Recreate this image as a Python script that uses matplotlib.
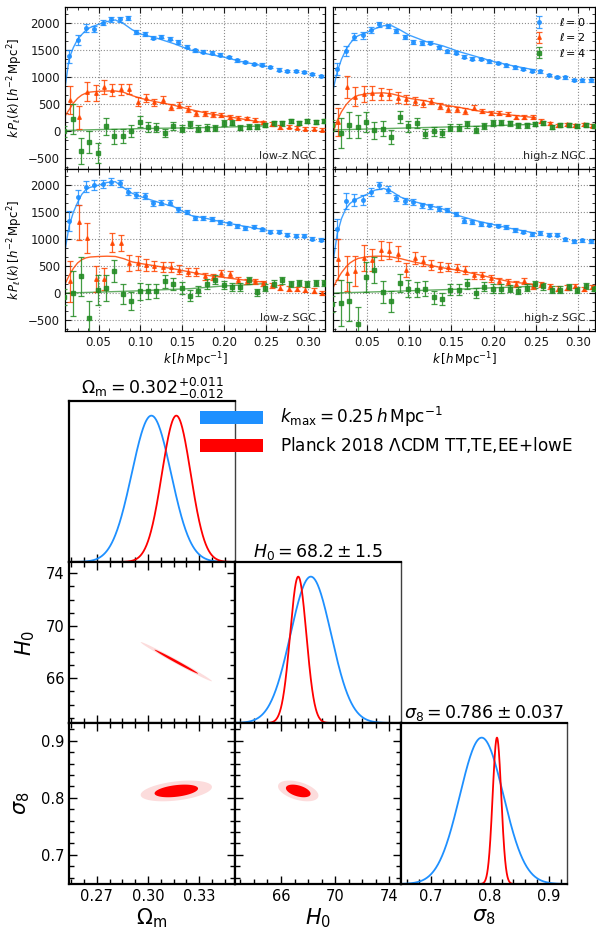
import numpy as np
import matplotlib
matplotlib.use('Agg')
import matplotlib.pyplot as plt
from matplotlib.ticker import MultipleLocator, AutoMinorLocator, FixedLocator
from matplotlib.patches import Patch

# ---------------- data: power spectrum multipoles ----------------
k_base = [0.015 + 0.01 * i for i in range(31)]
k_ell0 = k_base
k_ell2 = [k + 0.0015 for k in k_base]
k_ell4 = [0.009] + [k + 0.004 for k in k_base]

lowNGC_P0 = [1390, 1690, 1913, 1888, 2012, 2075, 2075, 2093, 1844, 1794, 1732, 1750, 1713, 1651, 1564, 1501,
             1470, 1452, 1420, 1377, 1314, 1283, 1246, 1233, 1190, 1140, 1121, 1109, 1103, 1059, 1015]
lowNGC_P2 = [579, 255, 735, 704, 816, 766, 778, 785, 548, 623, 535, 585, 442, 479, 411, 330, 330, 311, 299,
             268, 237, 237, 205, 162, 131, 81, 81, 62, 50, 50, 31]
lowNGC_P4 = [0, 224, -367, -200, -405, 93, -93, -93, 6, 174, 81, 68, -31, 93, 50, 125, 50, 68, 62, 156, 156,
             68, 81, 81, 112, 143, 143, 187, 143, 187, 174, 187]

highNGC_P0 = [1152, 1482, 1750, 1775, 1874, 1980, 1949, 1856, 1750, 1650, 1638, 1638, 1557, 1482, 1451, 1376,
              1339, 1339, 1295, 1264, 1220, 1183, 1152, 1121, 1108, 1046, 1003, 996, 953, 940, 940]
highNGC_P2 = [168, 816, 641, 691, 704, 691, 685, 623, 592, 560, 517, 560, 467, 411, 405, 374, 436, 374, 342,
              330, 311, 268, 268, 268, 193, 143, 112, 125, 112, 125, 100]
highNGC_P4 = [112, -31, 112, 81, 174, 19, 50, -106, 268, 93, 156, -44, 0, -31, 68, 68, 125, 31, 93, 156, 156,
              143, 112, 112, 131, 156, 81, 112, 112, 93, 112, 93]

lowSGC_P0 = [1341, 1776, 1975, 2006, 2024, 2068, 2037, 1882, 1820, 1801, 1664, 1677, 1677, 1553, 1509, 1397,
             1397, 1366, 1323, 1292, 1242, 1211, 1230, 1180, 1136, 1136, 1087, 1062, 1062, 1012, 994]
lowSGC_P2 = [224, 1310, 1025, 255, 267, 932, 932, 559, 559, 528, 503, 484, 484, 435, 391, 391, 311, 298, 373,
             360, 248, 217, 217, 186, 143, 99, 81, 81, 68, 50, 0]
lowSGC_P4 = [-75, 0, 311, -466, 62, 99, 410, -12, -149, 37, 37, 37, 217, 174, 99, -43, 37, 174, 248, 150, 112,
             112, 236, 19, 99, 174, 236, 174, 186, 174, 186, 186]

highSGC_P0 = [1190, 1707, 1732, 1732, 1875, 2000, 1919, 1763, 1707, 1688, 1626, 1607, 1564, 1545, 1470, 1346,
              1327, 1283, 1271, 1252, 1221, 1171, 1140, 1097, 1115, 1084, 1084, 1003, 959, 984, 959]
highSGC_P2 = [629, 368, 411, 648, 617, 797, 785, 735, 430, 648, 598, 523, 486, 486, 461, 430, 330, 330, 274,
              224, 206, 174, 224, 131, 162, 131, 81, 100, 131, 81, 112]
highSGC_P4 = [-193, -181, -150, -573, 299, 424, 25, -150, 193, 81, 68, 87, -75, -100, 68, 68, 174, 6, 118, 87,
              87, 87, 50, 100, 162, 131, 68, 68, 112, 68, 131, 87]

err0_NGC = [120, 90, 70, 60, 50, 45, 45, 40, 38, 35, 33, 32, 30, 30, 28, 27, 26, 25, 25, 24, 24, 23, 23, 22,
            22, 22, 21, 21, 21, 20, 20]
err2_NGC = [260, 210, 180, 150, 130, 115, 105, 95, 85, 75, 68, 62, 58, 54, 50, 47, 45, 42, 40, 38, 37, 35, 34,
            33, 32, 31, 30, 30, 29, 28, 28]
err4_NGC = [100, 280, 240, 210, 190, 160, 140, 130, 115, 105, 95, 88, 80, 75, 70, 65, 62, 58, 55, 52, 50, 48,
            46, 44, 42, 41, 40, 38, 37, 36, 35, 35]
err0_SGC = [180, 140, 110, 90, 75, 68, 62, 58, 55, 50, 48, 45, 43, 41, 40, 38, 37, 36, 35, 34, 33, 32, 31, 30,
            30, 29, 29, 28, 28, 27, 27]
err2_SGC = [380, 320, 280, 240, 200, 175, 155, 140, 125, 112, 100, 92, 86, 80, 75, 70, 66, 62, 59, 56, 54, 52,
            50, 48, 46, 45, 44, 43, 42, 41, 40]
err4_SGC = [150, 420, 360, 320, 280, 240, 210, 190, 170, 155, 140, 130, 120, 112, 105, 98, 92, 88, 84, 80, 76,
            73, 70, 67, 65, 63, 61, 59, 57, 56, 55, 54]

# theory curves (best fit), drawn up to k_max = 0.25
k_th = [0.01, 0.015, 0.02, 0.025, 0.03, 0.035, 0.04, 0.05, 0.06, 0.07, 0.08, 0.09, 0.10, 0.12, 0.14, 0.16,
        0.18, 0.20, 0.22, 0.25]
lowNGC_T0 = [800, 1350, 1550, 1700, 1790, 1870, 1920, 1980, 2030, 2060, 1990, 1880, 1800, 1720, 1620, 1500,
             1430, 1370, 1290, 1200]
lowNGC_T2 = [280, 400, 520, 610, 670, 705, 725, 740, 745, 745, 720, 660, 610, 540, 480, 400, 330, 280, 230, 150]
lowNGC_T4 = [10, 15, 18, 20, 22, 24, 26, 30, 33, 36, 40, 44, 48, 54, 58, 62, 68, 75, 85, 100]
highNGC_T0 = [760, 1100, 1330, 1500, 1620, 1720, 1770, 1830, 1900, 1955, 1950, 1870, 1780, 1660, 1580, 1470,
              1380, 1290, 1220, 1130]
highNGC_T2 = [-30, 200, 360, 480, 570, 630, 665, 695, 705, 710, 690, 650, 610, 560, 490, 440, 380, 335, 300, 250]
highNGC_T4 = [20, 25, 28, 30, 32, 34, 36, 40, 44, 48, 52, 56, 60, 68, 76, 84, 92, 102, 112, 130]
lowSGC_T0 = [790, 1250, 1500, 1680, 1830, 1920, 1960, 2000, 2050, 2065, 1950, 1850, 1790, 1690, 1600, 1440,
             1380, 1310, 1250, 1170]
lowSGC_T2 = [170, 330, 460, 560, 620, 655, 670, 680, 685, 680, 640, 580, 550, 500, 450, 390, 330, 290, 250, 200]
lowSGC_T4 = [0, 5, 8, 10, 12, 14, 16, 20, 25, 30, 35, 40, 45, 60, 72, 85, 110, 135, 150, 180]
highSGC_T0 = [570, 1100, 1380, 1560, 1660, 1720, 1760, 1830, 1910, 1940, 1880, 1780, 1720, 1640, 1560, 1430,
              1340, 1270, 1200, 1110]
highSGC_T2 = [100, 250, 380, 480, 560, 610, 645, 675, 685, 685, 670, 640, 600, 530, 470, 420, 350, 280, 210, 160]
highSGC_T4 = [0, 5, 8, 10, 12, 14, 16, 20, 25, 30, 35, 40, 45, 55, 65, 75, 88, 100, 112, 130]

panel_names = ['low-z NGC', 'high-z NGC', 'low-z SGC', 'high-z SGC']

# ---------------- data: posteriors ----------------
par_names = [r'$\Omega_{\rm m}$', r'$H_0$', r'$\sigma_8$']
boss_mean = [0.302, 68.2, 0.786]
boss_sigma = [0.0115, 1.5, 0.037]
planck_mean = [0.3166, 67.27, 0.8120]
planck_sigma = [0.0084, 0.60, 0.0073]
planck_corr = {(0, 1): -0.993, (0, 2): 0.38, (1, 2): -0.45}
titles = [r'$\Omega_{\rm m} = 0.302^{+0.011}_{-0.012}$', r'$H_0 = 68.2\pm 1.5$', r'$\sigma_8 = 0.786\pm 0.037$']
legend_labels = [r'$k_{\rm max} = 0.25\,h\,{\rm Mpc}^{-1}$', r'Planck 2018 $\Lambda$CDM TT,TE,EE+lowE']

par_lims = [(0.2537, 0.351), (62.6, 74.86), (0.649, 0.931)]
par_major = [[0.27, 0.30, 0.33], [66, 70, 74], [0.7, 0.8, 0.9]]
par_major_lbl = [['0.27', '0.30', '0.33'], ['66', '70', '74'], ['0.7', '0.8', '0.9']]
par_minor = [0.0075, 1.0, 0.02]

C0, C2, C4 = '#1E90FF', '#FF4500', '#228B22'
BLUE, RED, PINK = '#1E90FF', '#FF0000', '#FCDCDC'

W, H = 596, 935
fig = plt.figure(figsize=(W / 100, H / 100), dpi=100)


def add_ax(x0, y0, x1, y1):
    return fig.add_axes([x0 / W, 1 - y1 / H, (x1 - x0) / W, (y1 - y0) / H])


# ---------------- top: multipoles ----------------
boxes = [(65, 7, 325, 169), (333, 7, 595, 169), (65, 169, 325, 331), (333, 169, 595, 331)]
datasets = [
    (lowNGC_P0, lowNGC_P2, lowNGC_P4, lowNGC_T0, lowNGC_T2, lowNGC_T4, 'N'),
    (highNGC_P0, highNGC_P2, highNGC_P4, highNGC_T0, highNGC_T2, highNGC_T4, 'N'),
    (lowSGC_P0, lowSGC_P2, lowSGC_P4, lowSGC_T0, lowSGC_T2, lowSGC_T4, 'S'),
    (highSGC_P0, highSGC_P2, highSGC_P4, highSGC_T0, highSGC_T2, highSGC_T4, 'S'),
]
for i, (box, ds) in enumerate(zip(boxes, datasets)):
    ax = add_ax(*box)
    P0, P2, P4, T0, T2, T4, cap = ds
    e0, e2, e4 = (err0_NGC, err2_NGC, err4_NGC) if cap == 'N' else (err0_SGC, err2_SGC, err4_SGC)
    ax.plot(k_th, T0, color=C0, lw=1.0, alpha=0.85, zorder=2)
    ax.plot(k_th, T2, color=C2, lw=1.0, alpha=0.85, zorder=2)
    ax.plot(k_th, T4, color=C4, lw=1.0, alpha=0.7, zorder=2)
    kw = dict(ms=2.6, capsize=2.0, elinewidth=0.9, capthick=0.9, alpha=0.85, zorder=3)
    ax.errorbar(k_ell0, P0, yerr=e0, fmt='o', color=C0, label=r'$\ell=0$', **kw)
    ax.errorbar(k_ell2, P2, yerr=e2, fmt='^', color=C2, label=r'$\ell=2$', **kw)
    ax.errorbar(k_ell4, P4, yerr=e4, fmt='s', color=C4, label=r'$\ell=4$', **kw)
    ax.set_xlim(0.01, 0.32)
    ax.set_ylim(-700, 2300)
    ax.xaxis.set_major_locator(MultipleLocator(0.05))
    ax.xaxis.set_minor_locator(AutoMinorLocator(4))
    ax.yaxis.set_major_locator(MultipleLocator(500))
    ax.yaxis.set_minor_locator(AutoMinorLocator(3))
    ax.grid(True, which='major', ls=':', color='0.55', lw=0.8)
    ax.tick_params(which='both', direction='in', top=True, right=True, labelsize=8.5, colors='0.1')
    ax.tick_params(which='major', length=4)
    ax.tick_params(which='minor', length=2)
    for s in ax.spines.values():
        s.set_linewidth(0.9)
    if i % 2 == 1:
        ax.tick_params(labelleft=False)
    else:
        ax.set_ylabel(r'$k\,P_\ell(k)\,[h^{-2}\,\mathrm{Mpc}^2]$', fontsize=8.5, labelpad=2)
    if i < 2:
        ax.tick_params(labelbottom=False)
    else:
        ax.set_xticks([0.05, 0.10, 0.15, 0.20, 0.25, 0.30])
        ax.set_xticklabels(['0.05', '0.10', '0.15', '0.20', '0.25', '0.30'])
        ax.set_xlabel(r'$k\,[h\,\mathrm{Mpc}^{-1}]$', fontsize=8.5, labelpad=1)
    ax.text(0.965, 0.08, panel_names[i], transform=ax.transAxes, ha='right', va='center', fontsize=8,
            color='0.15')
    if i == 1:
        ax.legend(loc='upper right', frameon=False, fontsize=8, handlelength=1.2, handletextpad=1.2,
                  labelspacing=0.3, borderaxespad=0.4)

# ---------------- bottom: triangle plot ----------------
cols = [69, 235, 401, 567]
rows = [401, 562, 723, 884]


def gauss(x, m, s):
    return np.exp(-0.5 * ((x - m) / s) ** 2)


def style_ticks(ax, xi, yi, diag):
    ax.set_xlim(*par_lims[xi])
    ax.xaxis.set_major_locator(FixedLocator(par_major[xi]))
    ax.xaxis.set_minor_locator(MultipleLocator(par_minor[xi]))
    if diag:
        ax.set_ylim(0, 1.1)
        ax.set_yticks([])
        ax.tick_params(which='both', direction='in', top=False, left=False, right=False, bottom=True)
    else:
        ax.set_ylim(*par_lims[yi])
        ax.yaxis.set_major_locator(FixedLocator(par_major[yi]))
        ax.yaxis.set_minor_locator(MultipleLocator(par_minor[yi]))
        ax.tick_params(which='both', direction='in', top=True, right=True, left=True, bottom=True)
    ax.tick_params(which='major', length=5.5, width=1.0, labelsize=10.5)
    ax.tick_params(which='minor', length=3.5, width=1.0)
    for s in ax.spines.values():
        s.set_linewidth(1.6)
    ax.tick_params(labelbottom=False, labelleft=False)


def cov_ellipse(mx, my, sx, sy, rho, dchi2):
    # ellipse of constant delta-chi2 for a correlated 2D Gaussian
    c2 = np.array([[1.0, rho], [rho, 1.0]])
    v2, e2 = np.linalg.eigh(c2)
    t = np.linspace(0, 2 * np.pi, 400)
    circ = np.vstack([np.cos(t), np.sin(t)])
    pts = e2 @ np.diag(np.sqrt(v2 * dchi2)) @ circ
    return mx + pts[0] * sx, my + pts[1] * sy


for r in range(3):
    for c in range(r + 1):
        ax = add_ax(cols[c], rows[r], cols[c + 1], rows[r + 1])
        if r == c:
            style_ticks(ax, c, None, True)
            lo, hi = par_lims[c]
            xb = np.linspace(max(lo, boss_mean[c] - 4.2 * boss_sigma[c]),
                             min(hi, boss_mean[c] + 4.2 * boss_sigma[c]), 400)
            xp = np.linspace(max(lo, planck_mean[c] - 4.2 * planck_sigma[c]),
                             min(hi, planck_mean[c] + 4.2 * planck_sigma[c]), 400)
            ax.plot(xb, gauss(xb, boss_mean[c], boss_sigma[c]), color=BLUE, lw=1.3)
            ax.plot(xp, gauss(xp, planck_mean[c], planck_sigma[c]), color=RED, lw=1.3)
            ax.set_title(titles[c], fontsize=12.5, pad=3)
            ax.spines['right'].set_linewidth(1.0)
            ax.spines['right'].set_color('0.25')
        else:
            style_ticks(ax, c, r, False)
            rho = planck_corr[(c, r)]
            ox, oy = cov_ellipse(planck_mean[c], planck_mean[r], planck_sigma[c], planck_sigma[r], rho, 6.18)
            ix, iy = cov_ellipse(planck_mean[c], planck_mean[r], planck_sigma[c], planck_sigma[r], rho, 2.30)
            ax.fill(ox, oy, color=PINK, lw=0, zorder=1)
            ax.fill(ix, iy, color=RED, lw=0, zorder=2)
        if r == 2:
            ax.tick_params(labelbottom=True)
            ax.set_xticklabels(par_major_lbl[c])
            ax.set_xlabel(par_names[c], fontsize=15, labelpad=2)
        if c == 0 and r > 0:
            ax.tick_params(labelleft=True)
            ax.set_yticklabels(par_major_lbl[r])
            ax.set_ylabel(par_names[r], fontsize=15, labelpad=6)

handles = [Patch(facecolor=BLUE, edgecolor='none'), Patch(facecolor=RED, edgecolor='none')]
fig.legend(handles, legend_labels, loc='upper left', bbox_to_anchor=(200 / W, 1 - 405 / H), frameon=False,
           fontsize=12.2, handlelength=3.7, handleheight=0.8, handletextpad=1.0, labelspacing=0.35,
           borderpad=0, borderaxespad=0)

fig.savefig('out.png', dpi=100)
